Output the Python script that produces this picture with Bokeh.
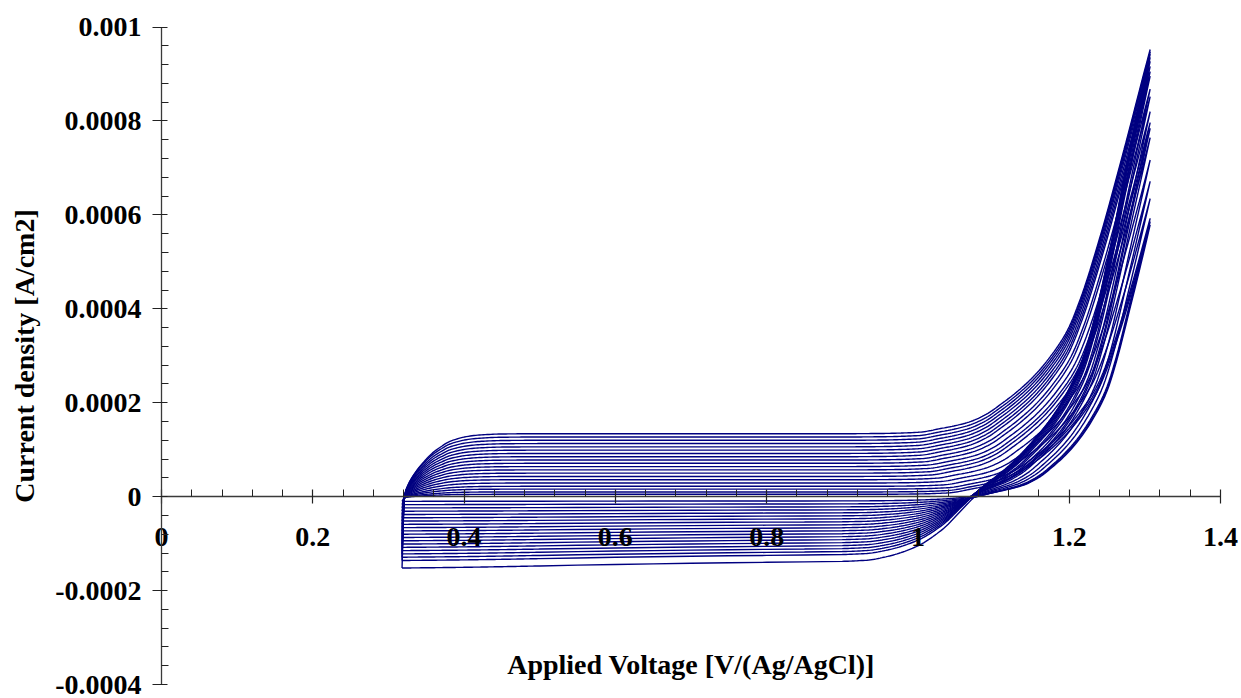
import numpy as np
from bokeh.plotting import figure
from bokeh.models import FixedTicker, Label, CustomJSTickFormatter
from bokeh.embed import file_html
from bokeh.resources import INLINE

# Sweep limits [V vs Ag/AgCl]
V_LOW, V_HIGH = 0.318, 1.307

# Per-cycle values [A/cm2]: charging current on the anodic sweep,
# charging current on the cathodic sweep, current at the upper vertex
anodic_plateau = [1.34e-4, 1.27e-4, 1.20e-4, 1.13e-4, 1.06e-4, 0.99e-4, 0.92e-4,
                  0.85e-4, 0.78e-4, 0.71e-4, 0.64e-4, 0.57e-4, 0.50e-4, 0.43e-4,
                  0.36e-4, 0.29e-4, 0.22e-4, 0.16e-4, 0.10e-4, 0.05e-4]
cathodic_plateau = [-1.52e-4, -1.36e-4, -1.29e-4, -1.22e-4, -1.15e-4, -1.08e-4,
                    -1.01e-4, -0.94e-4, -0.87e-4, -0.80e-4, -0.73e-4, -0.66e-4,
                    -0.59e-4, -0.52e-4, -0.45e-4, -0.38e-4, -0.31e-4, -0.24e-4,
                    -0.17e-4, -0.10e-4]
peak_current = [9.52e-4, 9.47e-4, 9.42e-4, 9.35e-4, 9.27e-4, 9.16e-4, 9.05e-4,
                8.95e-4, 8.67e-4, 8.51e-4, 8.19e-4, 7.96e-4, 7.84e-4, 7.64e-4,
                7.17e-4, 6.72e-4, 6.35e-4, 5.93e-4, 5.86e-4, 5.79e-4]

# Oxygen-evolution wave of the outermost cycle (faradaic part)
wave_v = [0.85, 0.90, 0.95, 1.00, 1.03, 1.066, 1.09, 1.109, 1.13, 1.153, 1.175,
          1.197, 1.215, 1.24, 1.27, 1.307, 1.34, 1.37]
wave_i = [0.0, 0.0, 0.5e-6, 3e-6, 11e-6, 24e-6, 41e-6, 62e-6, 88e-6, 122e-6, 164e-6,
          218e-6, 288e-6, 415e-6, 590e-6, 818e-6, 1010e-6, 1190e-6]

# Potential lag of the return sweep behind the anodic sweep
lag_v = [0.30, 0.90, 1.00, 1.10, 1.13, 1.16, 1.19, 1.22, 1.25, 1.28, 1.307]
lag_dv = [0.032, 0.032, 0.032, 0.033, 0.033, 0.031, 0.027, 0.020, 0.012, 0.004, 0.0]

# Share of the anodic charging current still flowing on the return sweep
relax_v = [0.30, 0.88, 0.93, 0.96, 1.00, 1.03, 1.06, 1.09, 1.12, 1.15, 1.20,
           1.25, 1.27, 1.29, 1.307]
relax_frac = [0.0, 0.0, 0.01, 0.04, 0.12, 0.23, 0.38, 0.52, 0.60, 0.66, 0.75,
              0.85, 0.90, 0.95, 1.0]

# Build-up of the charging current after the turn at the lower limit
turn_v = [0.318, 0.3205, 0.325, 0.33, 0.34, 0.35, 0.36, 0.37, 0.38, 0.39,
          0.40, 0.42, 0.45, 0.50, 1.40]
turn_frac = [0.0, 0.50, 0.60, 0.66, 0.745, 0.81, 0.865, 0.905, 0.94, 0.96,
             0.975, 0.99, 0.998, 1.0, 1.0]

# Drift of the cathodic charging current along the return sweep
drift_v = [0.318, 0.40, 0.60, 0.80, 0.90, 1.00, 1.40]
drift_frac = [1.0, 0.99, 0.95, 0.92, 0.91, 0.91, 0.91]

x_ticks = [0, 0.2, 0.4, 0.6, 0.8, 1.0, 1.2, 1.4]
x_labels = ["0", "0.2", "0.4", "0.6", "0.8", "1", "1.2", "1.4"]
y_ticks = [-0.0004, -0.0002, 0, 0.0002, 0.0004, 0.0006, 0.0008, 0.001]
y_labels = ["-0.0004", "-0.0002", "0", "0.0002", "0.0004", "0.0006", "0.0008", "0.001"]


def smooth(xk, yk, x):
    """Monotone cubic (PCHIP) curve through the knots, evaluated at x."""
    xk = np.asarray(xk, float)
    yk = np.asarray(yk, float)
    h = np.diff(xk)
    delta = np.diff(yk) / h
    m = np.zeros_like(yk)
    m[0], m[-1] = delta[0], delta[-1]
    for i in range(1, len(xk) - 1):
        if delta[i - 1] * delta[i] > 0:
            w1 = 2 * h[i] + h[i - 1]
            w2 = h[i] + 2 * h[i - 1]
            m[i] = (w1 + w2) / (w1 / delta[i - 1] + w2 / delta[i])
    x = np.clip(np.asarray(x, float), xk[0], xk[-1])
    k = np.clip(np.searchsorted(xk, x) - 1, 0, len(h) - 1)
    t = (x - xk[k]) / h[k]
    h00 = 2 * t**3 - 3 * t**2 + 1
    h10 = t**3 - 2 * t**2 + t
    h01 = -2 * t**3 + 3 * t**2
    h11 = t**3 - t**2
    return h00 * yk[k] + h10 * h[k] * m[k] + h01 * yk[k + 1] + h11 * h[k] * m[k + 1]


# potentials visited by the sweep
sweep = np.unique(np.round(np.concatenate([
    np.arange(V_LOW, 0.50, 0.0025),
    turn_v[:-1],
    np.arange(0.50, 0.90, 0.05),
    np.arange(0.90, V_HIGH, 0.0025),
    [V_HIGH],
]), 4))
sweep = sweep[(sweep >= V_LOW) & (sweep <= V_HIGH)]
back = sweep[::-1]

xs, ys = [], []
for c, cath, tip in zip(anodic_plateau, cathodic_plateau, peak_current):
    d = -cath
    # onset shift of this cycle's wave so that it reaches its vertex current
    shift = V_HIGH - np.interp(tip - c, wave_i[1:], wave_v[1:])
    rho = smooth(turn_v, turn_frac, sweep)
    fwd = -d * (1 - rho) + c * rho + smooth(wave_v, wave_i, sweep - shift)
    tau = smooth(relax_v, relax_frac, back)
    phi = smooth(drift_v, drift_frac, back)
    lag = smooth(lag_v, lag_dv, back)
    rev = smooth(wave_v, wave_i, back - shift - lag) + c * tau - d * phi * (1 - tau)
    xs.append(np.concatenate([sweep, back]).tolist())
    ys.append(np.concatenate([fwd, rev]).tolist())

FONT = "Liberation Serif"

# plot area: 0..1.4 V spans pixels 161..1220, 0.001..-0.0004 A/cm2 spans 26.5..684
PX_V = 1059.0 / 1.4
PX_A = 657.5 / 0.0014
x0 = -161.0 / PX_V
y1 = 0.001 + 26.5 / PX_A

p = figure(width=1241, height=698,
           x_range=(x0, x0 + 1241.0 / PX_V), y_range=(y1 - 698.0 / PX_A, y1),
           output_backend="svg", toolbar_location=None,
           min_border_left=0, min_border_right=0,
           min_border_top=0, min_border_bottom=0)
p.outline_line_color = None
p.grid.visible = False
p.background_fill_color = "white"
p.border_fill_color = "white"

p.multi_line(xs, ys, line_color="#000080", line_width=1.4)

fmt_code = """
const i = tv.findIndex(t => Math.abs(t - tick) < 1e-9);
return i < 0 ? '' : lbl[i];
"""

# axes crossing at the origin
xa = p.xaxis[0]
xa.fixed_location = 0
xa.bounds = (0, 1.4)
xa.ticker = FixedTicker(ticks=x_ticks,
                        minor_ticks=[round(i * 0.04, 4) for i in range(36) if i % 5])
xa.formatter = CustomJSTickFormatter(args=dict(tv=x_ticks, lbl=x_labels), code=fmt_code)
xa.major_tick_in = 7
xa.major_tick_out = 7
xa.minor_tick_in = 7
xa.minor_tick_out = 0
xa.major_label_standoff = 24

ya = p.yaxis[0]
ya.fixed_location = 0
ya.bounds = (-0.0004, 0.001)
ya.ticker = FixedTicker(ticks=y_ticks,
                        minor_ticks=[round(-0.0004 + i * 0.00004, 6) for i in range(36) if i % 5])
ya.formatter = CustomJSTickFormatter(args=dict(tv=y_ticks, lbl=y_labels), code=fmt_code)
ya.major_tick_in = 6
ya.major_tick_out = 9
ya.minor_tick_in = 7
ya.minor_tick_out = 0
ya.major_label_standoff = 11
ya.axis_label = "Current density [A/cm2]"
ya.axis_label_standoff = 12

for ax in (xa, ya):
    ax.axis_line_color = "#3a3a3a"
    ax.axis_line_width = 1.3
    ax.major_tick_line_color = "#222222"
    ax.minor_tick_line_color = "#222222"
    ax.major_tick_line_width = 1.2
    ax.minor_tick_line_width = 1.0
    ax.major_label_text_font = FONT
    ax.major_label_text_font_style = "bold"
    ax.major_label_text_font_size = "28px"
    ax.major_label_text_color = "black"
    ax.axis_label_text_font = FONT
    ax.axis_label_text_font_style = "bold"
    ax.axis_label_text_font_size = "28px"
    ax.axis_label_text_color = "black"

p.add_layout(Label(x=0.70, y=-0.000358, text="Applied Voltage [V/(Ag/AgCl)]",
                   text_align="center", text_baseline="alphabetic",
                   text_font=FONT, text_font_style="bold", text_font_size="28px",
                   text_color="black"))

open("out.html", "w").write(file_html(p, INLINE))
